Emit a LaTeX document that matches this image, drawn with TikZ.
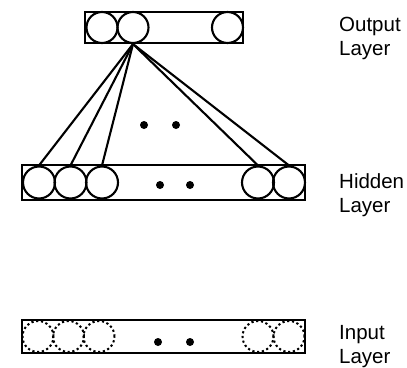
\documentclass[tikz,border=0pt]{standalone}
\usepackage{fontspec}
\setmainfont{Liberation Sans}
\begin{document}
\begin{tikzpicture}[x=1pt,y=-1pt,
  layerbox/.style={draw, rectangle, line width=2.1pt, inner sep=0pt},
  unit/.style={draw, circle, line width=2.1pt, inner sep=0pt, minimum size=#1},
  unit/.default=31pt,
  inunit/.style={unit=#1, line width=2pt, dash pattern=on 2.2pt off 2.6pt},
  inunit/.default=31pt,
  dotmark/.style={circle, fill=black, inner sep=0pt, minimum size=8pt},
  link/.style={line width=2.1pt},
  lbl/.style={anchor=north west, inner sep=0pt, align=left,
    font=\fontsize{20.5pt}{24pt}\selectfont}]
\useasboundingbox (0,0) rectangle (407,367);

% output layer
\node[layerbox, minimum width=158pt, minimum height=31pt] (outbox) at (164,27.5) {};
\node[unit] (o1) at (102,27.5) {};
\node[unit] (o2) at (133,27.5) {};
\node[unit] (o3) at (227.5,27.5) {};

% hidden layer
\node[layerbox, minimum width=283pt, minimum height=35pt] (hidbox) at (163.5,182.5) {};
\node[unit=32pt] (h1) at (39,182.5) {};
\node[unit=32pt] (h2) at (70.5,182.5) {};
\node[unit=32pt] (h3) at (102,182.5) {};
\node[unit=32pt] (h4) at (258,182.5) {};
\node[unit=32pt] (h5) at (289,182.5) {};
\node[dotmark] (hd1) at (160,185) {};
\node[dotmark] (hd2) at (190,185) {};

% input layer
\node[layerbox, minimum width=283pt, minimum height=33pt] (inbox) at (163.5,336.5) {};
\node[inunit] (i1) at (38,336.5) {};
\node[inunit] (i2) at (68.5,336.5) {};
\node[inunit] (i3) at (99,336.5) {};
\node[inunit] (i4) at (258,336.5) {};
\node[inunit] (i5) at (289,336.5) {};
\node[dotmark] (id1) at (158,342) {};
\node[dotmark] (id2) at (190,342) {};

% elided connections
\node[dotmark] (md1) at (144,125) {};
\node[dotmark] (md2) at (176,125) {};

% connections from one output unit to the hidden units
\foreach \h in {h1,h2,h3,h4,h5}
  \draw[link] (o2.south) -- (\h.north);

% labels
\node[lbl] (outlbl) at (339,17) {Output\\Layer};
\node[lbl] (hidlbl) at (339,173) {Hidden\\Layer};
\node[lbl] (inlbl) at (339,325) {Input\\Layer};
\end{tikzpicture}
\end{document}
